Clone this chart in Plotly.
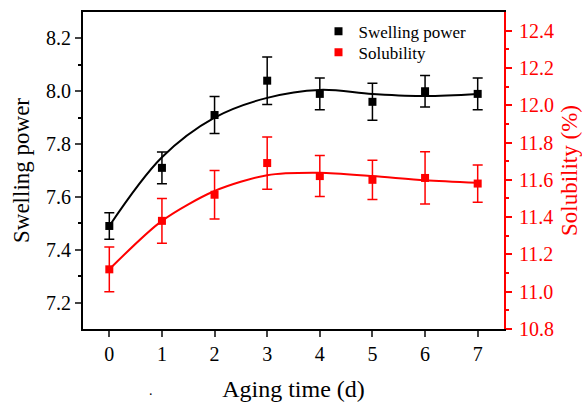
import plotly.graph_objects as go

days = [0, 1, 2, 3, 4, 5, 6, 7]
swelling = [7.49, 7.71, 7.91, 8.04, 7.99, 7.96, 8.00, 7.99]
swelling_err = [0.05, 0.06, 0.07, 0.09, 0.06, 0.07, 0.06, 0.06]
swelling_fit = [7.49, 7.75, 7.90, 7.975, 8.005, 7.99, 7.982, 7.99]
solubility = [11.12, 11.38, 11.52, 11.69, 11.62, 11.60, 11.61, 11.58]
solubility_err = [0.12, 0.12, 0.13, 0.14, 0.11, 0.105, 0.14, 0.10]
solubility_fit = [11.12, 11.38, 11.54, 11.625, 11.638, 11.62, 11.598, 11.584]

FONT = "Times New Roman, Liberation Serif, DejaVu Serif, serif"
RED = "#ff0000"

fig = go.Figure()
fig.add_trace(go.Scatter(x=days, y=swelling_fit, mode="lines", line=dict(color="black", width=2, shape="spline", smoothing=1.0),
                         showlegend=False, hoverinfo="skip"))
fig.add_trace(go.Scatter(x=days, y=swelling, mode="markers", name="Swelling power", legend="legend",
                         marker=dict(symbol="square", size=8, color="black"),
                         error_y=dict(type="data", array=swelling_err, color="black", thickness=1.5, width=5)))
fig.add_trace(go.Scatter(x=days, y=solubility_fit, mode="lines", yaxis="y2",
                         line=dict(color=RED, width=2, shape="spline", smoothing=0.8),
                         showlegend=False, hoverinfo="skip"))
fig.add_trace(go.Scatter(x=days, y=solubility, mode="markers", name="Solubility", yaxis="y2", legend="legend2",
                         marker=dict(symbol="square", size=8, color=RED),
                         error_y=dict(type="data", array=solubility_err, color=RED, thickness=1.5, width=5)))

L, R, T, B = 83, 78, 12, 73
PW = 582 - L - R
PH = 402 - T - B
lx = (318.5 - L) / PW

fig.update_layout(
    width=582, height=402,
    margin=dict(l=L, r=R, t=T, b=B, autoexpand=False),
    paper_bgcolor="white", plot_bgcolor="white",
    font=dict(family=FONT, size=20, color="black"),
    xaxis=dict(range=[-0.5, 7.5], tickvals=days, ticks="outside", ticklen=6, tickwidth=2, automargin=False,
               ticklabelstandoff=0,
               showline=True, linecolor="black", linewidth=2, mirror=True, showgrid=False, zeroline=False,
               title=dict(text="Aging time (d)", font=dict(family=FONT, size=24), standoff=25),
               tickfont=dict(family=FONT, size=20)),
    yaxis=dict(range=[7.1, 8.3], tickvals=[7.2, 7.4, 7.6, 7.8, 8.0, 8.2], ticktext=["7.2", "7.4", "7.6", "7.8", "8.0", "8.2"],
               ticks="outside", ticklen=6, tickwidth=2, automargin=False,
               minor=dict(tickvals=[7.3, 7.5, 7.7, 7.9, 8.1], ticks="outside", ticklen=3, tickwidth=2, tickcolor="black"),
               showline=True, linecolor="black", linewidth=2, showgrid=False, zeroline=False,
               title=dict(text="Swelling power", font=dict(family=FONT, size=23), standoff=10),
               tickfont=dict(family=FONT, size=20)),
    yaxis2=dict(range=[10.8, 12.5], overlaying="y", side="right", automargin=False,
                tickvals=[10.8, 11.0, 11.2, 11.4, 11.6, 11.8, 12.0, 12.2, 12.4],
                ticktext=["10.8", "11.0", "11.2", "11.4", "11.6", "11.8", "12.0", "12.2", "12.4"],
                ticks="outside", ticklen=6, tickwidth=2, tickcolor=RED, ticklabelstandoff=3,
                minor=dict(tickvals=[10.9, 11.1, 11.3, 11.5, 11.7, 11.9, 12.1, 12.3], ticks="outside", ticklen=3, tickwidth=2, tickcolor=RED),
                showline=True, linecolor=RED, linewidth=2, showgrid=False, zeroline=False,
                tickfont=dict(family=FONT, size=20, color=RED),
                title=dict(text="Solubility (%)", font=dict(family=FONT, size=23, color=RED), standoff=10)),
    legend=dict(x=lx, y=1 - (31.7 - T) / PH, xanchor="left", yanchor="middle", bgcolor="rgba(0,0,0,0)",
                font=dict(family=FONT, size=17), itemwidth=30),
    legend2=dict(x=lx, y=1 - (52.7 - T) / PH, xanchor="left", yanchor="middle", bgcolor="rgba(0,0,0,0)",
                 font=dict(family=FONT, size=17), itemwidth=30),
    annotations=[dict(text=".", x=(151 - L) / PW, y=-(390 - 329) / PH,
                      xref="paper", yref="paper", showarrow=False, xanchor="center", yanchor="middle",
                      font=dict(family=FONT, size=14))],
)

fig.write_html("out.html", config={"displayModeBar": False},
               post_script="document.body.style.margin='0';document.body.style.padding='0';")
